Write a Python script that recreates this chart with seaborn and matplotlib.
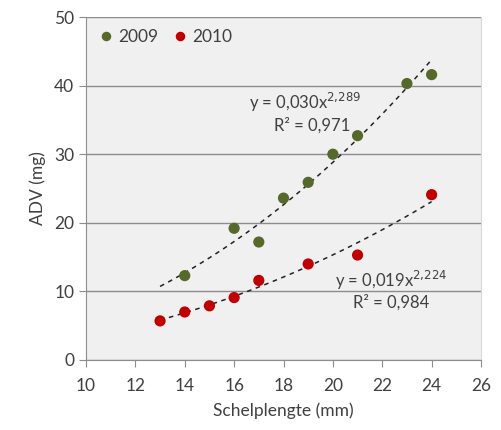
import numpy as np
import pandas as pd
import matplotlib
matplotlib.use("Agg")
import matplotlib.pyplot as plt
import seaborn as sns

# Data
x_2009 = [14, 16, 17, 18, 19, 20, 21, 23, 24]
y_2009 = [12.3, 19.2, 17.2, 23.6, 25.9, 30.0, 32.7, 40.3, 41.6]
x_2010 = [13, 14, 15, 16, 17, 19, 21, 24]
y_2010 = [5.7, 7.0, 7.9, 9.1, 11.6, 14.0, 15.3, 24.1]
series = ["2009", "2010"]
eq_labels = [r"y = 0,030x$^{2{,}289}$", r"y = 0,019x$^{2{,}224}$"]
r2_labels = ["R² = 0,971", "R² = 0,984"]
fit_range = [13, 24]
x_ticks = [10, 12, 14, 16, 18, 20, 22, 24, 26]
y_ticks = [0, 10, 20, 30, 40, 50]

colors = {"2009": "#56692b", "2010": "#c00000"}

df = pd.concat([
    pd.DataFrame({"x": x_2009, "y": y_2009, "jaar": "2009"}),
    pd.DataFrame({"x": x_2010, "y": y_2010, "jaar": "2010"}),
])

sns.set_style("white")
plt.rcParams["font.family"] = ["Lato", "DejaVu Sans"]

fig = plt.figure(figsize=(5.01, 4.30), dpi=100)
ax = fig.add_axes([86/501, 70/430, 395/501, 343/430])
ax.set_facecolor("#f0f0f0")

# power trendlines (least squares in log-log space, as Excel does)
for xv, yv in [(x_2009, y_2009), (x_2010, y_2010)]:
    b, ln_a = np.polyfit(np.log(xv), np.log(yv), 1)
    xs = np.linspace(fit_range[0], fit_range[1], 100)
    ax.plot(xs, np.exp(ln_a) * xs ** b, linestyle=(0, (3, 3)), color="#222222",
            lw=1.1, zorder=2)

sns.scatterplot(data=df, x="x", y="y", hue="jaar", palette=colors, s=65,
                edgecolor="none", ax=ax, zorder=3)

ax.set_xlim(10, 26)
ax.set_ylim(0, 50)
ax.set_xticks(x_ticks)
ax.set_yticks(y_ticks)
ax.yaxis.grid(True, color="#8c8c8c", lw=1.0)
ax.set_axisbelow(True)
ax.spines["top"].set_visible(False)
ax.spines["right"].set_color("#d9d9d9")
ax.spines["left"].set_color("#8c8c8c")
ax.spines["bottom"].set_color("#8c8c8c")
ax.tick_params(axis="both", which="both", direction="out", length=5, color="#8c8c8c",
               labelsize=12.5, labelcolor="#404040", bottom=True, left=True)
ax.tick_params(axis="x", pad=8)
ax.set_xlabel("Schelplengte (mm)", fontsize=12.5, color="#404040", labelpad=6)
ax.set_ylabel("ADV (mg)", fontsize=12.5, color="#404040", labelpad=6)

leg = ax.legend(loc="upper left", frameon=False, ncol=2, fontsize=12.5,
                handletextpad=-0.3, columnspacing=0.3, borderaxespad=0.3,
                markerscale=0.85, bbox_to_anchor=(-0.025, 1.0))
for t in leg.get_texts():
    t.set_color("#404040")

tc = "#404040"
ax.text(16.6, 37.5, eq_labels[0], fontsize=12, color=tc, ha="left", va="center")
ax.text(17.6, 34.2, r2_labels[0], fontsize=12, color=tc, ha="left", va="center")
ax.text(20.1, 11.6, eq_labels[1], fontsize=12, color=tc, ha="left", va="center")
ax.text(20.8, 8.4, r2_labels[1], fontsize=12, color=tc, ha="left", va="center")

fig.savefig("out.png", dpi=100, facecolor="white")
